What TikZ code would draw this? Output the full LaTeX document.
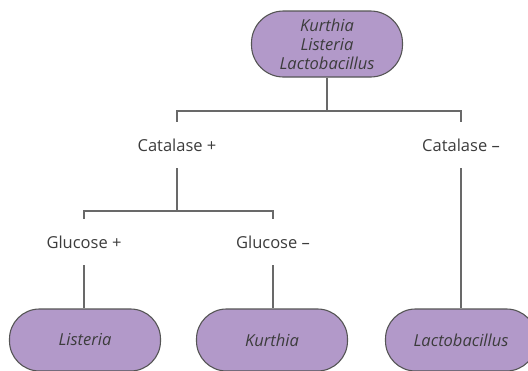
\documentclass[tikz,border=0pt]{standalone}
\usepackage{fontspec}
\setmainfont{Open Sans}
\definecolor{nodefill}{RGB}{178,153,201}
\definecolor{nodeedge}{RGB}{85,85,85}
\definecolor{txt}{RGB}{60,60,60}
\definecolor{wire}{RGB}{105,105,105}
\tikzset{
  org/.style={draw=nodeedge, fill=nodefill, line width=1.1pt, rounded corners=30pt,
    minimum width=151pt, minimum height=62pt, inner sep=0pt, align=center,
    text=txt, font=\fontsize{16.5}{19}\selectfont\itshape},
  test/.style={inner sep=0pt, minimum height=46pt, text=txt,
    font=\fontsize{16.5}{19}\selectfont},
  link/.style={draw=wire, line width=1.1pt}
}
\begin{document}
\begin{tikzpicture}[x=1pt,y=-1pt]
\useasboundingbox (0,0) rectangle (528,370);
\node[org, minimum height=66pt, rounded corners=32pt] (top) at (327,44) {Kurthia\\Listeria\\Lactobacillus};
\node[test] (cp) at (177,145) {Catalase +};
\node[test] (cm) at (461,145) {Catalase –};
\node[test] (gp) at (84,242) {Glucose +};
\node[test] (gm) at (273,242) {Glucose –};
\node[org] (lis) at (85,340) {Listeria};
\node[org] (kur) at (272,340) {Kurthia};
\node[org] (lac) at (461,340) {Lactobacillus};
\coordinate (j1) at (327,111);
\coordinate (j2) at (177,211);
\draw[link] (top.south) -- (j1);
\draw[link] (cp.north) |- (j1) -| (cm.north);
\draw[link] (cp.south) -- (j2);
\draw[link] (gp.north) |- (j2) -| (gm.north);
\draw[link] (gp.south) -- (lis.north -| gp.south);
\draw[link] (gm.south) -- (kur.north -| gm.south);
\draw[link] (cm.south) -- (lac.north);
\end{tikzpicture}
\end{document}
